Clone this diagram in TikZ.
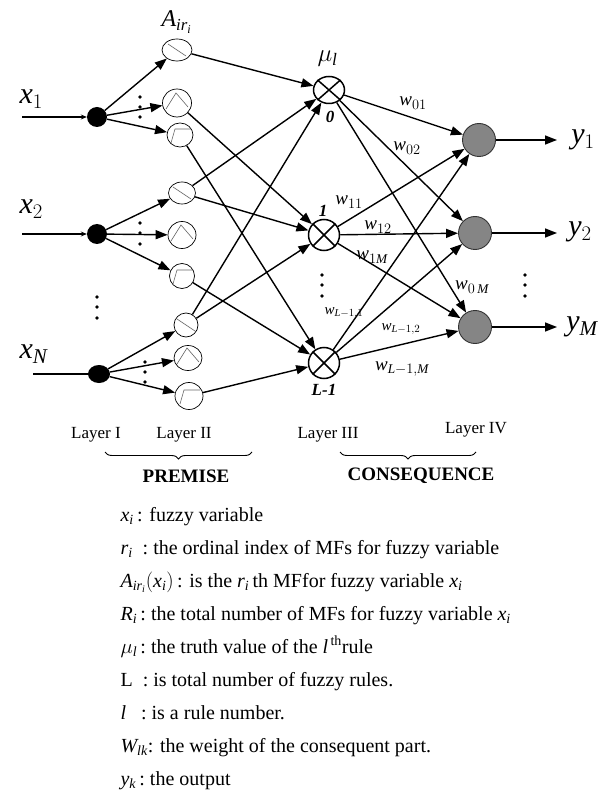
\documentclass[tikz,border=0pt]{standalone}
\usepackage{fontspec}
\setmainfont{Liberation Serif}
\usetikzlibrary{arrows.meta,shapes.geometric,decorations.pathreplacing,calc}
\newcommand{\mv}[1]{\mathit{#1}}
\newcommand{\icdec}[1]{\draw[icon] ([shift={(-9,-6)}]#1.center) -- ([shift={(9,6)}]#1.center);}
\newcommand{\ictri}[1]{\draw[icon] ([shift={(-11,6)}]#1.center) -- ([shift={(-1,-10)}]#1.center) -- ([shift={(11,4)}]#1.center);}
\newcommand{\icstep}[1]{\draw[icon] ([shift={(-9,8)}]#1.center) -- ([shift={(-5,-6)}]#1.center) -- ([shift={(11,-6)}]#1.center);}
\newcommand{\fs}[1]{\fontsize{#1}{#1}\selectfont}
\begin{document}
\begin{tikzpicture}[x=1pt,y=-1pt,
  mf/.style={draw,ellipse,line width=0.7pt,inner sep=0pt},
  icon/.style={draw=black!60,line width=0.6pt},
  prod/.style={draw,circle,line width=1.5pt,inner sep=0pt,minimum size=31pt},
  xl/.style={line width=1.5pt},
  outn/.style={draw=black!80,circle,fill=black!48,line width=0.9pt,inner sep=0pt,minimum size=33pt},
  inn/.style={circle,fill=black,inner sep=0pt,minimum size=20pt},
  innN/.style={ellipse,fill=black,inner sep=0pt,minimum width=22pt,minimum height=18pt},
  conn/.style={line width=1.4pt,-{Triangle[length=12pt,width=9pt]}},
  inarr/.style={line width=1.1pt,-{Stealth[length=6pt,width=5pt]}},
  inline/.style={line width=1.1pt},
  dot/.style={circle,fill=black,inner sep=0pt,minimum size=3.6pt},
  wl/.style={font=\fs{19}},
  wls/.style={font=\fs{15}},
  pl/.style={font=\fs{17}\bfseries\itshape},
  lay/.style={font=\fs{17}},
  sec/.style={font=\fs{19}\bfseries},
  leg/.style={anchor=base west,font=\fs{20}},
  brc/.style={decorate,decoration={brace,amplitude=7pt,mirror},line width=0.9pt}
]
\fill[white] (0,0) rectangle (609,791);
\useasboundingbox (0,0) rectangle (609,791);

% input nodes
\node[inn] (i1) at (97,117) {};
\node[inn] (i2) at (97,234) {};
\node[innN] (iN) at (99,374) {};
\coordinate (s1) at (22,117);
\coordinate (s2) at (22,234);
\coordinate (sN) at (33,374);
\draw[inarr] (s1) -- (i1);
\draw[inarr] (s2) -- (i2);
\draw[inline] (sN) -- (iN);
\node[anchor=base west,font=\fs{30}] (lx1) at (16,104) {$\mv{x}_1$};
\node[anchor=base west,font=\fs{30}] (lx2) at (16,214) {$\mv{x}_2$};
\node[anchor=base west,font=\fs{30}] (lxN) at (16,358) {$\mv{x}_{\mv{N}}$};

% membership function nodes
\node[mf,minimum width=30pt,minimum height=22pt] (m11) at (177,50) {};
\node[mf,minimum width=29pt,minimum height=28pt] (m12) at (177,103) {};
\node[mf,minimum width=26pt,minimum height=24pt] (m13) at (180,135) {};
\node[mf,minimum width=27pt,minimum height=22pt] (m21) at (182,193) {};
\node[mf,minimum width=28pt,minimum height=27pt] (m22) at (182,235) {};
\node[mf,minimum width=25pt,minimum height=25pt] (m23) at (182,276) {};
\node[mf,minimum width=24pt,minimum height=24pt] (m31) at (186,325) {};
\node[mf,minimum width=28pt,minimum height=25pt] (m32) at (188,358) {};
\node[mf,minimum width=28pt,minimum height=27pt] (m33) at (189,396) {};
\icdec{m11}\ictri{m12}\icstep{m13}
\icdec{m21}\ictri{m22}\icstep{m23}
\icdec{m31}\ictri{m32}\icstep{m33}
\node[anchor=base west,font=\fs{24}] (lA) at (158,27) {$\mv{A}_{\mv{ir}_{\mv{i}}}$};

% rule nodes
\node[prod,ellipse,minimum width=31pt,minimum height=27pt] (p0) at (329,90) {};
\node[prod] (p1) at (324,235) {};
\node[prod] (pL) at (324,363) {};
\foreach \p in {p0,p1,pL}{
  \draw[xl] (\p.north west) -- (\p.south east);
  \draw[xl] (\p.north east) -- (\p.south west);
}
\node[anchor=base west,font=\fs{25}] (lmu) at (314,62) {$\mu_{\mv{l}}$};
\node[pl] (l0) at (330,117) {0};
\node[pl] (l1) at (323,211) {1};
\node[pl] (lL) at (324,390) {L-1};

% output nodes
\node[outn] (o1) at (479,140) {};
\node[outn] (o2) at (475,233) {};
\node[outn] (oM) at (475,327) {};
\coordinate (e1) at (557,140);
\coordinate (e2) at (557,233);
\coordinate (eM) at (557,327);
\node[font=\fs{30}] (ly1) at (583,140) {$\mv{y}_1$};
\node[font=\fs{30}] (ly2) at (580,232) {$\mv{y}_2$};
\node[font=\fs{30}] (lyM) at (582,327) {$\mv{y}_{\mv{M}}$};

% layer I -> II
\draw[conn] (i1) -- (m11);
\draw[conn] (i1) -- (m12);
\draw[conn] (i1) -- (m13);
\draw[conn] (i2) -- (m21);
\draw[conn] (i2) -- (m22);
\draw[conn] (i2) -- (m23);
\draw[conn] (iN) -- (m31);
\draw[conn] (iN) -- (m32);
\draw[conn] (iN) -- (m33);

% layer II -> III
\draw[conn] (m11) -- (p0);
\draw[conn] (m12) -- (p1);
\draw[conn] (m13) -- (pL);
\draw[conn] (m21) -- (p0);
\draw[conn] (m21) -- (p1);
\draw[conn] (m23) -- (pL);
\draw[conn] (m31) -- (p0);
\draw[conn] (m31) -- (p1);
\draw[conn] (m33) -- (pL);

% layer III -> IV
\draw[conn] (p0) -- (o1);
\draw[conn] (p0) -- (o2);
\draw[conn] (p0) -- (oM);
\draw[conn] (p1) -- (o1);
\draw[conn] (p1) -- (o2);
\draw[conn] (p1) -- (oM);
\draw[conn] (pL) -- (o1);
\draw[conn] (pL) -- (o2);
\draw[conn] (pL) -- (oM);
\draw[conn] (o1) -- (e1);
\draw[conn] (o2) -- (e2);
\draw[conn] (oM) -- (eM);

% weight labels
\node[wl] (w01) at (413,103) {$\mv{w}_{01}$};
\node[wl] (w02) at (407,148) {$\mv{w}_{02}$};
\node[wl] (w11) at (349,202) {$\mv{w}_{11}$};
\node[wl] (w12) at (378,227) {$\mv{w}_{12}$};
\node[wl] (w1M) at (372,257) {$\mv{w}_{1\mv{M}}$};
\node[wl] (w0M) at (472,287) {$\mv{w}_{0\,\mv{M}}$};
\node[wls] (wL1) at (344,313) {$\mv{w}_{\mv{L}-1,1}$};
\node[wls] (wL2) at (401,329) {$\mv{w}_{\mv{L}-1,2}$};
\node[wl] (wLM) at (402,369) {$\mv{w}_{\mv{L}-1,\mv{M}}$};

% ellipsis dots
\foreach \y in {97,107,117} \node[dot] at (140,\y) {};
\foreach \y in {223,233,244} \node[dot] at (140,\y) {};
\foreach \y in {362,372,382} \node[dot] at (145,\y) {};
\foreach \y in {297,307,318} \node[dot] at (97,\y) {};
\foreach \y in {275,285,296} \node[dot] at (322,\y) {};
\foreach \y in {275,285,296} \node[dot] at (525,\y) {};

% layer labels
\node[lay] (L1) at (96,435) {Layer I};
\node[lay] (L2) at (184,435) {Layer II};
\node[lay] (L3) at (328,435) {Layer III};
\node[lay] (L4) at (476,430) {Layer IV};
\coordinate (b1a) at (105,452);
\coordinate (b1b) at (252,452);
\coordinate (b2a) at (340,452);
\coordinate (b2b) at (476,452);
\draw[brc] (b1a) -- (b1b);
\draw[brc] (b2a) -- (b2b);
\node[sec] (prem) at (186,476) {PREMISE};
\node[sec] (cons) at (421,476) {CONSEQUENCE};

% legend
\node[leg] at (117,521) {$\mv{x}_{\mv{i}}$\,: fuzzy variable};
\node[leg] at (117,554) {$\mv{r}_{\mv{i}}$\ \ :\ the ordinal index of MFs for fuzzy variable};
\node[leg] at (117,587) {$\mv{A}_{\mv{ir}_{\mv{i}}}(\mv{x}_{\mv{i}})$\,: is the $\mv{r}_{\mv{i}}$\,th MFfor fuzzy variable $\mv{x}_{\mv{i}}$};
\node[leg] at (117,620) {$\mv{R}_{\mv{i}}$\,:\ the total number of MFs for fuzzy variable $\mv{x}_{\mv{i}}$};
\node[leg] at (117,653) {$\mu_{\mv{l}}$\,:\ the truth value of the $\mv{l}^{\,\mathrm{th}}$rule};
\node[leg] at (117,686) {L\ \ :\ is total number of fuzzy rules.};
\node[leg] at (117,719) {$\mv{l}$\ \ \ :\ is a rule number.};
\node[leg] at (117,752) {$\mv{W}_{\mv{lk}}$: the weight of the consequent part.};
\node[leg] at (117,785) {$\mv{y}_{\mv{k}}$\,:\ the output};
\end{tikzpicture}
\end{document}
